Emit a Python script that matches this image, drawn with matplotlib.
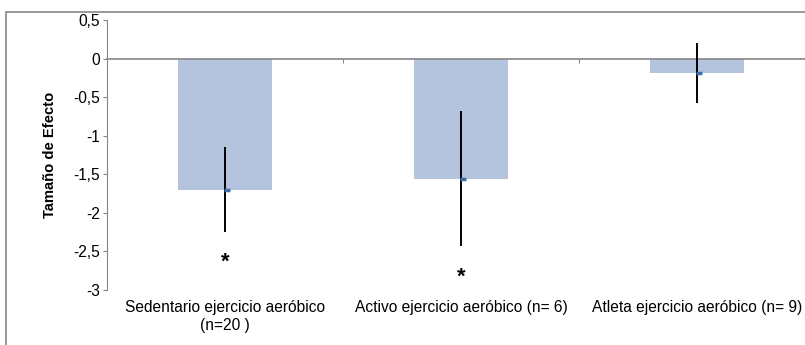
import matplotlib
matplotlib.use("Agg")
import matplotlib.pyplot as plt
import matplotlib.transforms as mtransforms
from matplotlib.patches import Rectangle

plt.rcParams['font.family'] = ['Liberation Sans', 'DejaVu Sans']

categories = ["Sedentario ejercicio aeróbico\n(n=20 )",
              "Activo ejercicio aeróbico (n= 6)",
              "Atleta ejercicio aeróbico (n= 9)"]
effect = [-1.70, -1.56, -0.19]
err = [0.55, 0.875, 0.39]
significant = [True, True, False]
star_y = [-2.64, -2.83]
yticks = [0.5, 0, -0.5, -1, -1.5, -2, -2.5, -3]
ytick_labels = ["0,5", "0", "-0,5", "-1", "-1,5", "-2", "-2,5", "-3"]
ylabel = "Tamaño de Efecto"

W, H = 805, 345
fig = plt.figure(figsize=(W / 100, H / 100), dpi=100)
ax = fig.add_axes([107 / W, 1 - 290 / H, (815 - 107) / W, (290 - 20) / H])

gray = "#868686"
fs = 11.2
x = list(range(len(categories)))
ax.bar(x, effect, width=0.40, color="#B4C3DE", zorder=2)
ax.errorbar(x, effect, yerr=err, fmt="none", ecolor="black", elinewidth=1.4,
            capsize=0, zorder=3)
# small mean markers, nudged just right of the error lines
off = mtransforms.offset_copy(ax.transData, fig=fig, x=1.5, y=0, units="dots")
ax.plot(x, effect, linestyle="none", marker="_", markersize=4, mew=2.5,
        color="#3F6FA8", transform=off, zorder=4)

ax.set_xlim(-0.5, 2.5)
ax.set_ylim(-3, 0.5)
ax.set_yticks(yticks)
ax.set_yticklabels(ytick_labels, fontsize=fs)
ax.tick_params(axis="y", direction="out", length=3, color=gray, pad=2)

for s in ["top", "right"]:
    ax.spines[s].set_visible(False)
ax.spines["left"].set_color(gray)
ax.spines["bottom"].set_color(gray)
ax.spines["bottom"].set_position(("data", 0))
ax.spines["bottom"].set_linewidth(1.2)
ax.spines["bottom"].set_clip_on(False)
ax.set_xticks([0.5, 1.5])
ax.set_xticklabels([])
ax.tick_params(axis="x", direction="out", length=3, color=gray)

ax.set_ylabel(ylabel, fontsize=10.6, fontweight="bold", labelpad=12)

lab_tr = mtransforms.blended_transform_factory(ax.transData, ax.transAxes)
for xi, lab in zip(x, categories):
    ax.text(xi, -0.037, lab, transform=lab_tr, ha="center", va="top",
            fontsize=fs, linespacing=1.25)

si = 0
for xi, sig in zip(x, significant):
    if sig:
        ax.text(xi, star_y[si], "*", ha="center", va="center", fontsize=16,
                fontweight="bold", zorder=5)
        si += 1

fig.patches.append(Rectangle((6 / W, -0.1), 1.2, 1 - 12 / H + 0.1,
                             transform=fig.transFigure, fill=False,
                             edgecolor=gray, linewidth=1.2))

fig.savefig("out.png", dpi=100)
